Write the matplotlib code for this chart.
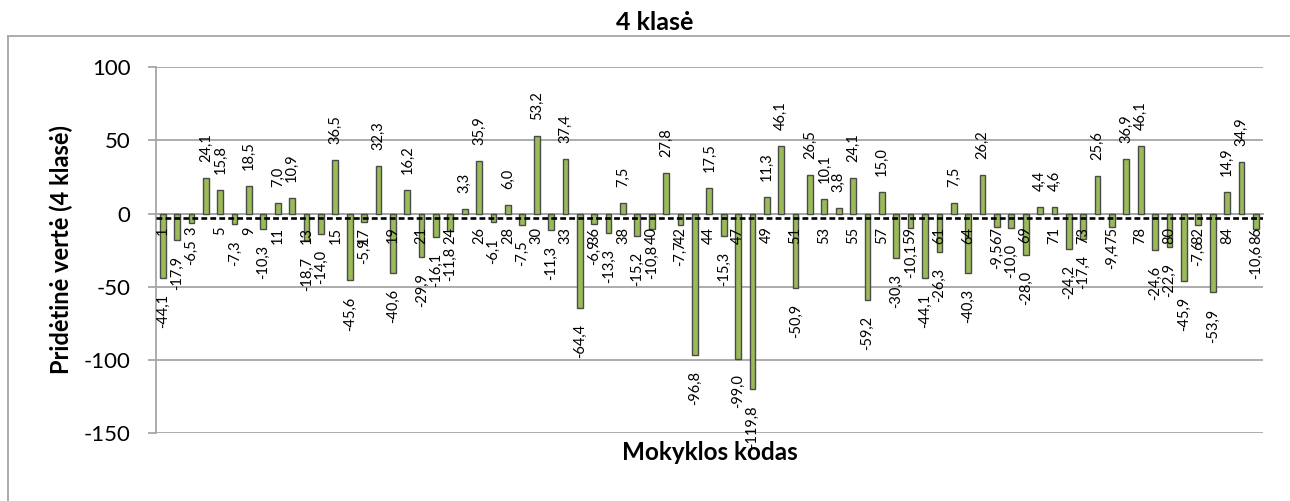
import matplotlib
matplotlib.use("Agg")
import matplotlib.pyplot as plt
from matplotlib.lines import Line2D

# School codes (category axis) and value-added scores for grade 4
codes = [1, 2, 3, 4, 5, 7, 9, 10, 11, 12, 13, 14, 15, 16, 17, 18, 19, 20, 21, 23,
         24, 25, 26, 27, 28, 29, 30, 32, 33, 35, 36, 37, 38, 39, 40, 41, 42, 43, 44, 46,
         47, 48, 49, 50, 51, 52, 53, 54, 55, 56, 57, 58, 59, 60, 61, 63, 64, 66, 67, 68,
         69, 70, 71, 72, 73, 74, 75, 77, 78, 79, 80, 81, 82, 83, 84, 85, 86]
values = [-44.1, -17.9, -6.5, 24.1, 15.8, -7.3, 18.5, -10.3, 7.0, 10.9,
          -18.7, -14.0, 36.5, -45.6, -5.9, 32.3, -40.6, 16.2, -29.9, -16.1,
          -11.8, 3.3, 35.9, -6.1, 6.0, -7.5, 53.2, -11.3, 37.4, -64.4,
          -6.9, -13.3, 7.5, -15.2, -10.8, 27.8, -7.7, -96.8, 17.5, -15.3,
          -99.0, -119.8, 11.3, 46.1, -50.9, 26.5, 10.1, 3.8, 24.1, -59.2,
          15.0, -30.3, -10.1, -44.1, -26.3, 7.5, -40.3, 26.2, -9.5, -10.0,
          -28.0, 4.4, 4.6, -24.2, -17.4, 25.6, -9.4, 36.9, 46.1, -24.6,
          -22.9, -45.9, -7.6, -53.9, 14.9, 34.9, -10.6]
average_line = -3.0
y_ticks = [-150, -100, -50, 0, 50, 100]

title = "4 klasė"
y_title = "Pridėtinė vertė (4 klasė)"
x_title = "Mokyklos kodas"

FONT = ["Lato", "DejaVu Sans"]
plt.rcParams["font.family"] = FONT

W, H = 1290, 501
fig = plt.figure(figsize=(W / 100, H / 100), dpi=100)
fig.patch.set_facecolor("white")

# plot area in pixel coordinates
left, right, top, bottom = 155.5, 1263, 67, 433.3
ax = fig.add_axes([left / W, 1 - bottom / H, (right - left) / W, (bottom - top) / H])

grid_col = "#A6A6A6"
pos = list(range(len(values)))
ax.bar(pos, values, width=0.4, color="#9BBB59", edgecolor="#4A4A4A",
       linewidth=1.0, zorder=3)

ax.axhline(average_line, color="black", linestyle=(0, (2.2, 1.2)), lw=1.9, zorder=4)

ax.set_xlim(-0.5, len(values) - 0.5)
ax.set_ylim(-150, 100)
ax.set_yticks(y_ticks)
ax.set_yticklabels([str(t) for t in y_ticks], fontsize=16)
ax.yaxis.grid(True, color=grid_col, lw=1.3, zorder=0)
ax.set_axisbelow(True)

for s in ("top", "right"):
    ax.spines[s].set_visible(False)
ax.spines["left"].set_color(grid_col)
ax.spines["left"].set_linewidth(1.3)
ax.spines["bottom"].set_position(("data", 0))
ax.spines["bottom"].set_color(grid_col)
ax.spines["bottom"].set_linewidth(1.3)
ax.spines["bottom"].set_zorder(2)

ax.tick_params(axis="y", length=6, width=1.3, color=grid_col, pad=12)
ax.set_xticks([])

# category labels along the zero line (every other code), drawn over the bars
for i, (x, c) in enumerate(zip(pos, codes)):
    if i % 2 == 0:
        ax.annotate(str(c), (x, 0), xytext=(0, -9.4), textcoords="offset points",
                    rotation=90, ha="center", va="top", fontsize=10.5, zorder=6,
                    annotation_clip=False)

# value labels at the outer end of each bar
for x, v in zip(pos, values):
    txt = f"{v:.1f}".replace(".", ",")
    off = 11.5 if v >= 0 else -11.5
    ax.annotate(txt, (x, v), xytext=(0, off), textcoords="offset points",
                rotation=90, ha="center", va="bottom" if v >= 0 else "top",
                fontsize=10.5, zorder=5, annotation_clip=False)

# titles
fig.text(655 / W, 1 - 22 / H, title, ha="center", va="center",
         fontsize=18, fontweight="bold")
fig.text(61 / W, 1 - 250 / H, y_title, ha="center", va="center",
         rotation=90, fontsize=17, fontweight="bold")
fig.text(710 / W, 1 - 452 / H, x_title, ha="center", va="center",
         fontsize=17.5, fontweight="bold")

# chart-area frame (runs off the right and bottom edges)
fig.add_artist(Line2D([8 / W, 8 / W], [0, 1 - 36 / H], transform=fig.transFigure,
                      color=grid_col, lw=1.3))
fig.add_artist(Line2D([8 / W, 1], [1 - 36 / H, 1 - 36 / H], transform=fig.transFigure,
                      color=grid_col, lw=1.3))

fig.savefig("out.png", dpi=100, facecolor="white")
